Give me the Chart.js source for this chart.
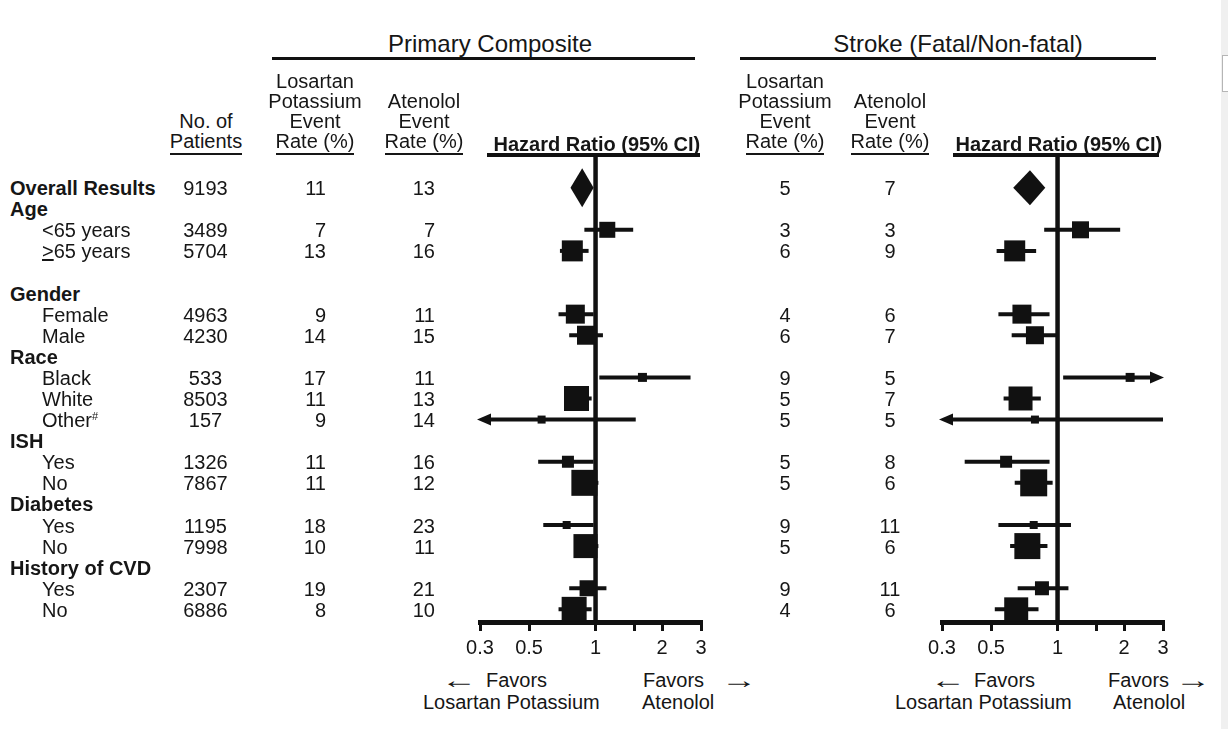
<!DOCTYPE html>
<html>
<head>
<meta charset="utf-8">
<script src="https://cdn.jsdelivr.net/npm/chart.js@4.4.1/dist/chart.umd.min.js"></script>
<style>
html,body{margin:0;padding:0;background:#fff;}
body{width:1228px;height:729px;position:relative;overflow:hidden;font-family:"Liberation Sans",Arial,Helvetica,sans-serif;color:#161616;}
.t{position:absolute;white-space:nowrap;font-size:20px;line-height:21px;}
.b{font-weight:bold;}
.hdr{position:absolute;white-space:nowrap;font-size:20px;line-height:20.3px;text-align:center;}
.ul{border-bottom:2px solid #161616;padding-bottom:1px;}
.rule{position:absolute;background:#111;}
canvas{position:absolute;}
sup{font-size:11px;vertical-align:7px;line-height:0;}
</style>
</head>
<body>
<canvas id="c1" width="261" height="516" style="left:460px;top:146px;"></canvas>
<canvas id="c2" width="261" height="516" style="left:922px;top:146px;"></canvas>
<div id="txt"></div>
<script>
// ---------- data ----------
const rowLabels = ['Overall Results','Age','<65 years','\u226565 years','','Gender','Female','Male','Race','Black','White','Other#','ISH','Yes','No','Diabetes','Yes','No','History of CVD','Yes','No'];
const rowIsGroup = [true,true,false,false,false,true,false,false,true,false,false,false,true,false,false,true,false,false,true,false,false];
const patients   = [9193,null,3489,5704,null,null,4963,4230,null,533,8503,157,null,1326,7867,null,1195,7998,null,2307,6886];

// Primary composite
const pcLosartanRate = [11,null,7,13,null,null,9,14,null,17,11,9,null,11,11,null,18,10,null,19,8];
const pcAtenololRate = [13,null,7,16,null,null,11,15,null,11,13,14,null,16,12,null,23,11,null,21,10];
const pcHR = [0.87,null,1.13,0.785,null,null,0.81,0.91,null,1.63,0.82,0.57,null,0.75,0.89,null,0.74,0.90,null,0.92,0.80];
const pcLo = [0.77,null,0.89,0.69,null,null,0.68,0.76,null,1.04,0.73,0.25,null,0.55,0.80,null,0.58,0.80,null,0.76,0.68];
const pcHi = [0.98,null,1.48,0.93,null,null,0.98,1.08,null,2.69,0.96,1.52,null,0.98,1.03,null,0.98,1.03,null,1.12,0.96];

// Stroke (fatal / non-fatal)
const stLosartanRate = [5,null,3,6,null,null,4,6,null,9,5,5,null,5,5,null,9,5,null,9,4];
const stAtenololRate = [7,null,3,9,null,null,6,7,null,5,7,5,null,8,6,null,11,6,null,11,6];
const stHR = [0.75,null,1.27,0.64,null,null,0.69,0.79,null,2.13,0.68,0.79,null,0.585,0.78,null,0.78,0.73,null,0.85,0.65];
const stLo = [0.63,null,0.87,0.53,null,null,0.54,0.62,null,1.06,0.57,0.25,null,0.38,0.64,null,0.54,0.61,null,0.66,0.52];
const stHi = [0.88,null,1.92,0.80,null,null,0.92,0.99,null,4.0,0.84,3.0,null,0.92,0.95,null,1.15,0.90,null,1.12,0.82];

// axis ticks
const tickValues = [0.3,0.5,1,1.5,2,3];
const tickLabels = ['0.3','0.5','1','','2','3'];

// marker styling (box side in px, reflecting weight)
const pcMarkerPx = [null,null,16,21,null,null,19,19,null,9,25,8,null,12,26,null,8,24,null,16,25];
const stMarkerPx = [null,null,17,21,null,null,19,18,null,9,24,8,null,12,27,null,8,26,null,14,24];

// ---------- plugin ----------
const INK = '#111';
const forestPlugin = {
  id: 'forest',
  beforeDatasetsDraw(chart) {
    const {ctx, chartArea, scales: {x, y}} = chart;
    const cfg = chart.options.plugins.forest;
    ctx.save();
    ctx.strokeStyle = INK; ctx.fillStyle = INK;
    // reference line at HR = 1
    const x1 = x.getPixelForValue(1);
    ctx.lineWidth = 4.5;
    ctx.beginPath(); ctx.moveTo(x1, chartArea.top); ctx.lineTo(x1, chartArea.bottom); ctx.stroke();
    // confidence intervals
    ctx.lineWidth = 4;
    cfg.hr.forEach((h, i) => {
      if (h == null || i === 0) return;
      const py = y.getPixelForValue(i);
      const lo = cfg.lo[i], hi = cfg.hi[i];
      let xa = x.getPixelForValue(Math.max(lo, x.min));
      let xb = x.getPixelForValue(Math.min(hi, x.max));
      const leftArrow = lo < x.min, rightArrow = hi > x.max;
      if (leftArrow) {
        const tip = xa - 3;
        ctx.beginPath(); ctx.moveTo(tip, py); ctx.lineTo(tip + 14, py - 6); ctx.lineTo(tip + 14, py + 6); ctx.closePath(); ctx.fill();
        xa = tip + 12;
      }
      if (rightArrow) {
        const tip = xb + 1;
        ctx.beginPath(); ctx.moveTo(tip, py); ctx.lineTo(tip - 14, py - 6); ctx.lineTo(tip - 14, py + 6); ctx.closePath(); ctx.fill();
        xb = tip - 12;
      }
      ctx.beginPath(); ctx.moveTo(xa, py); ctx.lineTo(xb, py); ctx.stroke();
    });
    // overall diamond
    const py0 = y.getPixelForValue(0);
    const xl = x.getPixelForValue(cfg.lo[0]), xr = x.getPixelForValue(cfg.hi[0]), xc = x.getPixelForValue(cfg.hr[0]);
    const hh = cfg.diamondHalf;
    ctx.beginPath();
    ctx.moveTo(xl, py0); ctx.lineTo(xc, py0 - hh); ctx.lineTo(xr, py0); ctx.lineTo(xc, py0 + hh); ctx.closePath(); ctx.fill();
    ctx.restore();
  }
};

function makeChart(id, hr, lo, hi, boxes, diamondHalf) {
  const pts = [], radii = [];
  hr.forEach((h, i) => {
    if (h != null && boxes[i] != null) { pts.push({x: h, y: i}); radii.push(boxes[i] / Math.SQRT2); }
  });
  return new Chart(document.getElementById(id), {
    type: 'scatter',
    data: { datasets: [{
      data: pts, pointStyle: 'rect', backgroundColor: INK, borderWidth: 0,
      pointRadius: radii, pointHoverRadius: radii, clip: false
    }]},
    options: {
      responsive: false, animation: false, events: [],
      layout: { autoPadding: false, padding: { left: 20, right: 20, top: 10, bottom: 0 } },
      plugins: { legend: { display: false }, tooltip: { enabled: false },
        forest: { hr, lo, hi, diamondHalf } },
      scales: {
        x: {
          type: 'logarithmic', min: 0.3, max: 3, position: 'bottom',
          afterBuildTicks: s => { s.ticks = tickValues.map(v => ({ value: v })); },
          afterFit: s => { s.height = 40; },
          ticks: { autoSkip: false, maxRotation: 0, minRotation: 0, padding: 5, color: '#161616',
            font: { family: '"Liberation Sans", Arial, sans-serif', size: 20 },
            callback: (v, i) => tickLabels[i] },
          grid: { drawOnChartArea: false, drawTicks: true, tickLength: 9, lineWidth: 3, color: INK },
          border: { display: true, width: 5, color: INK }
        },
        y: { type: 'linear', min: -1.5, max: 20.6, reverse: true, display: false }
      }
    },
    plugins: [forestPlugin]
  });
}

const chart1 = makeChart('c1', pcHR, pcLo, pcHi, pcMarkerPx, 19.5);
const chart2 = makeChart('c2', stHR, stLo, stHi, stMarkerPx, 17.5);

// ---------- text ----------
const root = document.getElementById('txt');
function add(html, cls, style) {
  const d = document.createElement('div');
  d.className = cls; d.innerHTML = html; d.style.cssText = style;
  root.appendChild(d); return d;
}
function esc(s) { return s.replace(/&/g,'&amp;').replace(/</g,'&lt;').replace(/>/g,'&gt;'); }
function labelHtml(s) {
  if (s === '\u226565 years') return '<u>&gt;</u>65 years';
  if (s.endsWith('#')) return esc(s.slice(0, -1)) + '<sup>#</sup>';
  return esc(s);
}
const canvasTop = 146;
const rowY = i => canvasTop + chart1.scales.y.getPixelForValue(i);

function centered(val, cx, y) { add(String(val), 't', `left:${cx-50}px;width:100px;text-align:center;top:${y-9.5}px;`); }
function rightAl(val, rx, y) { add(String(val), 't', `left:${rx-100}px;width:100px;text-align:right;top:${y-9.5}px;`); }

rowLabels.forEach((lab, i) => {
  const y = rowY(i);
  if (lab) add(labelHtml(lab), 't' + (rowIsGroup[i] ? ' b' : ''), `left:${rowIsGroup[i] ? 10 : 42}px;top:${y-9.5}px;`);
  if (patients[i] != null) centered(patients[i], 205.5, y);
  if (pcLosartanRate[i] != null) rightAl(pcLosartanRate[i], 326, y);
  if (pcAtenololRate[i] != null) rightAl(pcAtenololRate[i], 435, y);
  if (stLosartanRate[i] != null) centered(stLosartanRate[i], 785, y);
  if (stAtenololRate[i] != null) centered(stAtenololRate[i], 890, y);
});

// titles
add('Primary Composite', 't', 'left:340px;width:300px;text-align:center;font-size:24px;line-height:28px;top:29.5px;');
add('Stroke (Fatal/Non-fatal)', 't', 'left:808px;width:300px;text-align:center;font-size:24px;line-height:28px;top:29.5px;');
add('', 'rule', 'left:272px;width:423px;top:57px;height:2.5px;');
add('', 'rule', 'left:740px;width:416px;top:57px;height:2.5px;');

// column headers
function header(lines, cx) {
  const n = lines.length;
  const top = 131.5 - (n - 1) * 20.3;
  const html = lines.map((l, k) => k === n - 1 ? `<div><span class="ul">${esc(l)}</span></div>` : `<div>${esc(l)}</div>`).join('');
  add(html, 'hdr', `left:${cx-80}px;width:160px;top:${top}px;`);
}
header(['No. of','Patients'], 206);
header(['Losartan','Potassium','Event','Rate (%)'], 315);
header(['Atenolol','Event','Rate (%)'], 424);
header(['Losartan','Potassium','Event','Rate (%)'], 785);
header(['Atenolol','Event','Rate (%)'], 890);
add('Hazard Ratio (95% CI)', 'hdr b', 'left:493.5px;width:200px;top:134px;');
add('Hazard Ratio (95% CI)', 'hdr b', 'left:955.5px;width:200px;top:134px;');
add('', 'rule', 'left:487px;width:213px;top:153.3px;height:4px;');
add('', 'rule', 'left:953px;width:206px;top:153.3px;height:4px;');

// favors labels
function arrow(ch, cx, y) { add(ch, 't', `left:${cx-20}px;width:40px;text-align:center;top:${y-12}px;font-size:24px;line-height:24px;transform:scaleX(1.5);`); }
const fy1 = 680, fy2 = 702;
arrow('\u2190', 459, fy1);
add('Favors', 't', `left:486px;top:${fy1-10}px;`);
add('Losartan Potassium', 't', `left:423px;top:${fy2-10}px;`);
add('Favors', 't', `left:643px;top:${fy1-10}px;`);
arrow('\u2192', 739, fy1);
add('Atenolol', 't', `left:642px;top:${fy2-10}px;`);

arrow('\u2190', 947.5, fy1);
add('Favors', 't', `left:974px;top:${fy1-10}px;`);
add('Losartan Potassium', 't', `left:895px;top:${fy2-10}px;`);
add('Favors', 't', `left:1108px;top:${fy1-10}px;`);
arrow('\u2192', 1193, fy1);
add('Atenolol', 't', `left:1113px;top:${fy2-10}px;`);

// window edge strip (as in the screenshot)
add('', 'rule', 'left:1221px;width:7px;top:0;height:729px;background:#f0f0f0;');
add('', 'rule', 'left:1222px;width:5px;top:55px;height:35px;background:#fff;border:1px solid #b5b5b5;');
</script>
</body>
</html>
